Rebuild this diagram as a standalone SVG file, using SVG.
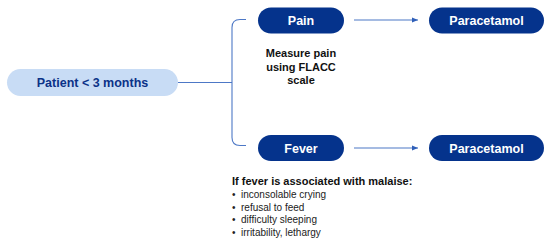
<svg xmlns="http://www.w3.org/2000/svg" width="550" height="244" viewBox="0 0 550 244">
<style>
.dark{fill:#05338c}
.light{fill:#c8dcf5}
.lbl{font-family:"Liberation Sans",Arial,sans-serif;font-weight:bold;font-size:12.5px;fill:#fff;text-anchor:middle}
.plbl{font-family:"Liberation Sans",Arial,sans-serif;font-weight:bold;font-size:12.5px;fill:#0b3288;text-anchor:middle}
.note{font-family:"Liberation Sans",Arial,sans-serif;font-weight:bold;font-size:11px;fill:#111}
.item{font-family:"Liberation Sans",Arial,sans-serif;font-size:10px;fill:#222}
.conn{fill:none;stroke:#4d78c6;stroke-width:1.1}
</style>
<defs>
<marker id="ah" viewBox="0 0 10 10" refX="10" refY="5" markerWidth="6" markerHeight="6" orient="auto" markerUnits="userSpaceOnUse">
<path d="M0,1 L10,5 L0,9 z" fill="#2f5fb8"/>
</marker>
</defs>
<rect width="550" height="244" fill="#fff"/>
<g id="connectors">
<path class="conn" d="M178,82.5 H232"/>
<path class="conn" d="M246,19.5 H240 Q232,19.5 232,27.5 V137.5 Q232,145.5 240,145.5 H246"/>
<path class="conn" d="M354,20 H418" marker-end="url(#ah)"/>
<path class="conn" d="M354,148 H418" marker-end="url(#ah)"/>
</g>
<g id="patient">
<rect class="light" x="7" y="69" width="171" height="27" rx="13.5"/>
<text class="plbl" x="92.5" y="87">Patient &lt; 3 months</text>
</g>
<g id="pain">
<rect class="dark" x="258" y="7.5" width="86" height="26" rx="13"/>
<text class="lbl" x="301" y="25">Pain</text>
</g>
<g id="paracetamol1">
<rect class="dark" x="429" y="7.5" width="115" height="26" rx="13"/>
<text class="lbl" x="486.5" y="25">Paracetamol</text>
</g>
<g id="fever">
<rect class="dark" x="258" y="135" width="86" height="26" rx="13"/>
<text class="lbl" x="301" y="152.5">Fever</text>
</g>
<g id="paracetamol2">
<rect class="dark" x="429" y="135" width="115" height="26" rx="13"/>
<text class="lbl" x="486.5" y="152.5">Paracetamol</text>
</g>
<g id="pain-note">
<text class="note" text-anchor="middle" x="301" y="57">Measure pain</text>
<text class="note" text-anchor="middle" x="301" y="71">using FLACC</text>
<text class="note" text-anchor="middle" x="301" y="84">scale</text>
</g>
<g id="fever-note">
<text class="note" x="232" y="185">If fever is associated with malaise:</text>
<text class="item" x="232" y="198">•</text><text class="item" x="241" y="198">inconsolable crying</text>
<text class="item" x="232" y="210.5">•</text><text class="item" x="241" y="210.5">refusal to feed</text>
<text class="item" x="232" y="223">•</text><text class="item" x="241" y="223">difficulty sleeping</text>
<text class="item" x="232" y="235.5">•</text><text class="item" x="241" y="235.5">irritability, lethargy</text>
</g>
</svg>
